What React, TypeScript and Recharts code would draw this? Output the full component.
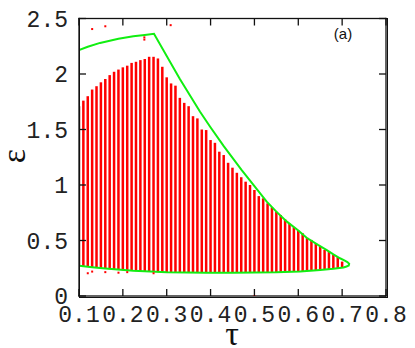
import React from "react";
import {
  ComposedChart,
  Bar,
  Line,
  Scatter,
  XAxis,
  YAxis,
  ReferenceArea,
  Customized,
} from "recharts";

// tau positions of the red bars
const TAU = [
  0, 0.01, 0.02, 0.03, 0.04, 0.05, 0.06, 0.07, 0.08, 0.09, 0.1, 0.11, 0.12,
  0.13, 0.14, 0.15, 0.16, 0.17, 0.18, 0.19, 0.2, 0.21, 0.22, 0.23, 0.24, 0.25,
  0.26, 0.27, 0.28, 0.29, 0.3, 0.31, 0.32, 0.33, 0.34, 0.35, 0.36, 0.37, 0.38,
  0.39, 0.4, 0.41, 0.42, 0.43, 0.44, 0.45, 0.46, 0.47, 0.48, 0.49, 0.5, 0.51,
  0.52, 0.53, 0.54, 0.55, 0.56, 0.57, 0.58, 0.59, 0.6,
];

// top of each bar
const EPS_HIGH = [
  1.71, 1.76, 1.8, 1.86, 1.89, 1.925, 1.955, 1.99, 2.02, 2.04, 2.06, 2.075, 2.1,
  2.11, 2.125, 2.135, 2.155, 2.155, 2.14, 2.065, 1.97, 1.915, 1.895, 1.785,
  1.74, 1.71, 1.62, 1.6, 1.5, 1.495, 1.405, 1.38, 1.3, 1.27, 1.2, 1.156, 1.11,
  1.07, 1.03, 1.0, 0.955, 0.9, 0.88, 0.835, 0.8, 0.76, 0.73, 0.69, 0.65, 0.62,
  0.59, 0.565, 0.525, 0.505, 0.475, 0.45, 0.415, 0.4, 0.37, 0.35, 0.31,
];

// bottom of each bar
const EPS_LOW = [
  0.275, 0.27, 0.265, 0.26, 0.255, 0.25, 0.246, 0.242, 0.238, 0.235, 0.232,
  0.229, 0.227, 0.224, 0.222, 0.22, 0.218, 0.217, 0.215, 0.214, 0.213, 0.212,
  0.212, 0.211, 0.211, 0.211, 0.21, 0.21, 0.21, 0.21, 0.21, 0.21, 0.21, 0.21,
  0.21, 0.21, 0.21, 0.21, 0.21, 0.211, 0.211, 0.211, 0.212, 0.212, 0.213,
  0.213, 0.215, 0.216, 0.217, 0.219, 0.22, 0.222, 0.225, 0.228, 0.231, 0.234,
  0.237, 0.241, 0.245, 0.25, 0.26,
];

// green boundary, traced in order
const BOUND_TAU = [
  0, 0.02, 0.048, 0.09, 0.124, 0.15, 0.171, 0.23, 0.276, 0.299, 0.33, 0.371,
  0.4, 0.428, 0.45, 0.474, 0.5, 0.519, 0.545, 0.565, 0.58, 0.595, 0.605, 0.612,
  0.616, 0.615, 0.61, 0.603, 0.58, 0.55, 0.504, 0.45, 0.4, 0.35, 0.29, 0.2,
  0.124, 0.06, 0.03, 0,
];
const BOUND_EPS = [
  2.216, 2.245, 2.28, 2.318, 2.34, 2.352, 2.363, 1.955, 1.66, 1.525, 1.35,
  1.135, 0.99, 0.85, 0.76, 0.67, 0.59, 0.525, 0.46, 0.414, 0.375, 0.34, 0.32,
  0.305, 0.29, 0.275, 0.266, 0.257, 0.245, 0.234, 0.22, 0.213, 0.211, 0.21,
  0.21, 0.213, 0.228, 0.248, 0.26, 0.272,
];

// stray red points
const STRAY_TAU = [0, 0.03, 0.06, 0.149, 0.149, 0.209, 0.02, 0.03, 0.06, 0.09, 0.11, 0.17, 0.4];
const STRAY_EPS = [2.4, 2.405, 2.43, 2.31, 2.33, 2.44, 0.205, 0.22, 0.215, 0.21, 0.215, 0.205, 0.0];

const X_TICKS = [0, 0.1, 0.2, 0.3, 0.4, 0.5, 0.6, 0.7];
const X_TICK_LABELS = ["0.1", "0.2", "0.3", "0.4", "0.5", "0.6", "0.7", "0.8"];
const Y_TICKS = [0, 0.5, 1, 1.5, 2, 2.5];
const Y_TICK_LABELS = ["0", "0.5", "1", "1.5", "2", "2.5"];

const barData = TAU.map((t, i) => ({ tau: t, range: [EPS_LOW[i], EPS_HIGH[i]] }));
const boundData = BOUND_TAU.map((t, i) => ({ tau: t, eps: BOUND_EPS[i] }));
const strayData = STRAY_TAU.map((t, i) => ({ tau: t, eps: STRAY_EPS[i] }));

const MONO = "'Liberation Mono', 'DejaVu Sans Mono', monospace";
const SERIF = "'Liberation Serif', 'DejaVu Serif', serif";
const TICK_LEN = 7;
const X_MARGIN = 17;
const Y_MARGIN = 18;
const INK = "#111";
const LW = 1.3;

// frame and ticks drawn as filled rects, ticks point inward
const XTick = (props: any) => {
  const x = Number(props.x);
  const y = Number(props.y);
  const base = y - X_MARGIN + TICK_LEN;
  return (
    <g>
      <rect x={x - LW / 2} y={base - TICK_LEN} width={LW} height={TICK_LEN} fill={INK} />
      <text x={x} y={y} dy="0.71em" textAnchor="middle" fontFamily={MONO} fontSize={23} fill="#222">
        {X_TICK_LABELS[props.index]}
      </text>
    </g>
  );
};

const YTick = (props: any) => {
  const x = Number(props.x);
  const y = Number(props.y);
  const base = x + Y_MARGIN - TICK_LEN;
  return (
    <g>
      <rect x={base} y={y - LW / 2} width={TICK_LEN} height={LW} fill={INK} />
      <text x={x} y={y} dy="0.36em" textAnchor="end" fontFamily={MONO} fontSize={23} fill="#222">
        {Y_TICK_LABELS[props.index]}
      </text>
    </g>
  );
};

const TopTick = (props: any) => {
  const x = Number(props.x);
  const y = Number(props.y);
  return <rect x={x - LW / 2} y={y - TICK_LEN} width={LW} height={TICK_LEN} fill={INK} />;
};

const RightTick = (props: any) => {
  const x = Number(props.x);
  const y = Number(props.y);
  return <rect x={x} y={y - LW / 2} width={TICK_LEN} height={LW} fill={INK} />;
};

const FrameShape = (p: any) => {
  const x = Number(p.x);
  const y = Number(p.y);
  const w = Number(p.width);
  const h = Number(p.height);
  return (
    <g>
      <rect x={x - LW / 2} y={y - LW / 2} width={w + LW} height={LW} fill={INK} />
      <rect x={x - LW / 2} y={y + h - LW / 2} width={w + LW} height={LW} fill={INK} />
      <rect x={x - LW / 2} y={y - LW / 2} width={LW} height={h + LW} fill={INK} />
      <rect x={x + w - LW / 2} y={y - LW / 2} width={LW} height={h + LW} fill={INK} />
    </g>
  );
};

const BarShape = (p: any) => {
  const top = Math.min(p.y, p.y + p.height);
  const h = Math.abs(p.height);
  return (
    <rect
      x={p.x + p.width / 2 - 1.25}
      y={top}
      width={2.5}
      height={h}
      fill={p.index === 0 ? "#990000" : "#ff0000"}
    />
  );
};

const Labels = () => (
  <g>
    <text x={25} y={156} transform="rotate(-90 25 156)" textAnchor="middle" fontFamily={SERIF} fontSize={34} fill="#111">
      ε
    </text>
    <text x={232} y={345} textAnchor="middle" fontFamily={SERIF} fontSize={34} fill="#111">
      τ
    </text>
    <text x={343} y={39} textAnchor="middle" fontFamily="'Liberation Sans', Arial, sans-serif" fontSize={15} fill="#111">
      (a)
    </text>
  </g>
);

export default function App() {
  return (
    <div style={{ position: "absolute", left: 0, top: 0, width: 415, height: 348, background: "#fff" }}>
      <ComposedChart
        width={415}
        height={348}
        data={barData}
        margin={{ top: 17.5, right: 28, bottom: 0, left: 0 }}
      >
        <XAxis
          xAxisId="b"
          dataKey="tau"
          type="number"
          domain={[0, 0.7]}
          ticks={X_TICKS}
          interval={0}
          orientation="bottom"
          height={52}
          tickSize={-TICK_LEN}
          tickMargin={X_MARGIN}
          axisLine={false}
          tickLine={false}
          tick={<XTick />}
          allowDataOverflow
        />
        <XAxis
          xAxisId="t"
          dataKey="tau"
          type="number"
          domain={[0, 0.7]}
          ticks={X_TICKS}
          interval={0}
          orientation="top"
          height={1}
          tickSize={-TICK_LEN}
          tickMargin={0}
          axisLine={false}
          tickLine={false}
          tick={<TopTick />}
          allowDataOverflow
        />
        <YAxis
          yAxisId="l"
          type="number"
          domain={[0, 2.5]}
          ticks={Y_TICKS}
          interval={0}
          width={79}
          tickSize={-TICK_LEN}
          tickMargin={Y_MARGIN}
          axisLine={false}
          tickLine={false}
          tick={<YTick />}
          allowDataOverflow
        />
        <YAxis
          yAxisId="r"
          orientation="right"
          type="number"
          domain={[0, 2.5]}
          ticks={Y_TICKS}
          interval={0}
          width={1}
          tickSize={-TICK_LEN}
          tickMargin={0}
          axisLine={false}
          tickLine={false}
          tick={<RightTick />}
          allowDataOverflow
        />
        <Bar
          xAxisId="b"
          yAxisId="l"
          dataKey="range"
          barSize={3}
          fill="#ff0000"
          shape={<BarShape />}
          isAnimationActive={false}
        />
        <Scatter
          xAxisId="b"
          yAxisId="l"
          data={strayData}
          dataKey="eps"
          isAnimationActive={false}
          shape={(p: any) => <rect x={p.cx - 1} y={p.cy - 1} width={2} height={2} fill="#ff0000" />}
        />
        <Line
          xAxisId="b"
          yAxisId="l"
          data={boundData}
          dataKey="eps"
          type="linear"
          stroke="#11ee11"
          strokeWidth={2}
          dot={false}
          isAnimationActive={false}
        />
        <ReferenceArea
          xAxisId="b"
          yAxisId="l"
          x1={0}
          x2={0.7}
          y1={0}
          y2={2.5}
          ifOverflow="visible"
          shape={<FrameShape />}
        />
        <Customized component={Labels} />
      </ComposedChart>
      {/* plain HTML border as a fallback frame around the plot area */}
      <div
        style={{
          position: "absolute",
          left: 78.5,
          top: 18,
          width: 307,
          height: 277.5,
          border: `1px solid ${INK}`,
          pointerEvents: "none",
        }}
      />
    </div>
  );
}
